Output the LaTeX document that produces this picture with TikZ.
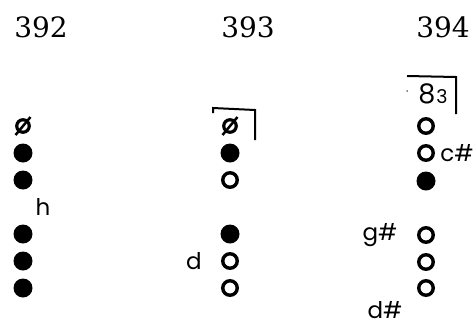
\documentclass[tikz,border=0pt]{standalone}
\usepackage{fontspec}
\setmainfont{DejaVu Serif}
\newfontfamily\lblfont{Poppins}
\tikzset{
  ttl/.style={inner sep=0pt, font=\fontsize{28}{28}\selectfont},
  fhole/.style={circle, fill=black, inner sep=0pt, minimum size=19pt},
  ohole/.style={circle, draw=black, line width=3.4pt, inner sep=0pt, minimum size=14.5pt},
  lbl/.style={inner sep=0pt, font=\lblfont\fontsize{23}{23}\selectfont},
  brk/.style={line width=2pt},
}
\newcommand{\slashhole}[2]{%
  \node[circle, draw=black, line width=3.2pt, inner sep=0pt, minimum size=12.5pt] (#1) at (#2) {};
  \draw[line width=2.5pt] ([shift={(-7.5,9)}]#1.center) -- ([shift={(7.5,-9)}]#1.center);
}
\begin{document}
\begin{tikzpicture}[x=1pt,y=-1pt]
\useasboundingbox (0,0) rectangle (476,325);
% titles
\node[ttl] (t1) at (41,27) {392};
\node[ttl] (t2) at (248,27) {393};
\node[ttl] (t3) at (443,27) {394};
% column 1
\slashhole{a0}{23,126}
\node[fhole] (a1) at (23,153) {};
\node[fhole] (a2) at (23,180) {};
\node[lbl] (ah) at (43,207) {h};
\node[fhole] (a3) at (23,234) {};
\node[fhole] (a4) at (23,261) {};
\node[fhole] (a5) at (23,288) {};
% column 2
\slashhole{b0}{230,126}
\node[fhole] (b1) at (230,153) {};
\node[ohole] (b2) at (230,180) {};
\node[fhole] (b3) at (230,234) {};
\node[ohole] (b4) at (230,261) {};
\node[lbl] (bd) at (194,261) {d};
\node[ohole] (b5) at (230,288) {};
\coordinate (bk1) at (213,113);
\coordinate (bk2) at (213,108);
\coordinate (bk3) at (255,110);
\coordinate (bk4) at (255,140);
\draw[brk] (bk1) -- (bk2) -- (bk3) -- (bk4);
% column 3
\node[lbl, font=\lblfont\fontsize{27}{27}\selectfont] (c8) at (427,94) {8};
\node[lbl, font=\lblfont\fontsize{19}{19}\selectfont] (c3) at (442,97) {3};
\node[circle, fill=black, inner sep=0pt, minimum size=1.5pt] (cdot) at (407,91) {};
\coordinate (ck1) at (407,76);
\coordinate (ck2) at (456,77);
\coordinate (ck3) at (456,114);
\draw[brk] (ck1) -- (ck2) -- (ck3);
\node[ohole] (c1) at (426,126) {};
\node[ohole] (c2) at (426,153) {};
\node[lbl] (cc) at (457,153) {c\#};
\node[fhole] (c3h) at (426,181) {};
\node[ohole] (c4) at (426,235) {};
\node[lbl] (cg) at (380,235) {g\#};
\node[ohole] (c5) at (426,262) {};
\node[ohole] (c6) at (426,288) {};
\node[lbl] (cd) at (385,310) {d\#};
\end{tikzpicture}
\end{document}
